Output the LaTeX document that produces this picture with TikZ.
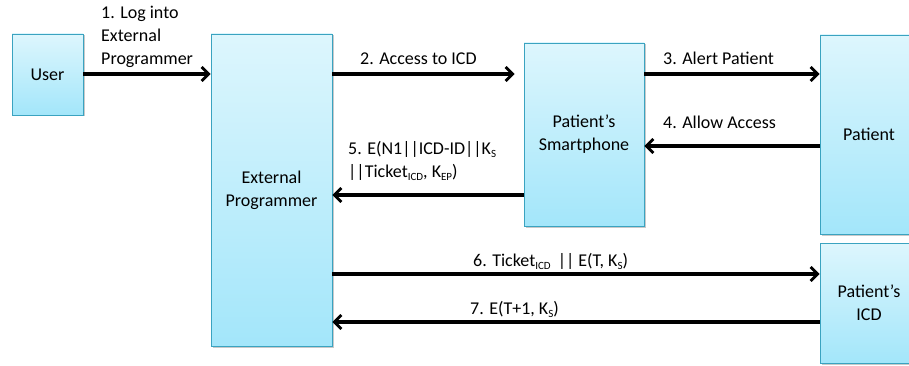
\documentclass[tikz,border=0pt]{standalone}
\usepackage{fontspec}
\setmainfont{Carlito}
\usetikzlibrary{arrows.meta,shadows,calc}
\definecolor{boxtop}{HTML}{DDF6FD}
\definecolor{boxbot}{HTML}{A3E6FA}
\definecolor{boxline}{HTML}{3AA3C0}
\newcommand{\sbs}[1]{\raisebox{-0.35ex}{\fontsize{11}{11}\selectfont #1}}
\begin{document}
\begin{tikzpicture}[x=1pt,y=-1pt,
  every node/.style={font=\fontsize{18}{23}\selectfont, inner sep=0pt},
  blk/.style={draw=boxline, line width=0.9pt, top color=boxtop, bottom color=boxbot,
    align=center, drop shadow={shadow xshift=1.5pt, shadow yshift=-1.5pt, opacity=0.35, fill=black!60}},
  arr/.style={line width=3.2pt, -{Straight Barb[length=7pt,width=14pt,line width=2.8pt]}},
  lab/.style={anchor=base west},
]
\useasboundingbox (0,0) rectangle (909,366);
\clip (0,0) rectangle (909,366);
\fill[white] (0,0) rectangle (909,366);

\node[blk, minimum width=71pt, minimum height=81pt] (user) at (47.5,74.5) {User};
\node[blk, minimum width=121pt, minimum height=312pt] (ep) at (271.5,190) {External\\Programmer};
\node[blk, minimum width=120pt, minimum height=183pt] (sp) at (584,134.5) {Patient’s\\Smartphone};
\node[blk, minimum width=98pt, minimum height=199pt] (pt) at (869,134.5) {Patient};
\node[blk, minimum width=98pt, minimum height=120pt] (icd) at (869,303) {Patient’s\\ICD};

\coordinate (r74) at (0,74);
\coordinate (r146) at (0,146);
\coordinate (r195) at (0,195);
\coordinate (r274) at (0,274);
\coordinate (r322) at (0,322);

\draw[arr] (user.east |- r74) -- (ep.west |- r74);
\node[anchor=north west, align=left] (l1) at (101,6) {1. Log into\\External\\Programmer};

\draw[arr, shorten >=9pt] (ep.east |- r74) -- (sp.west |- r74);
\node[lab] (l2) at (360,65) {2. Access to ICD};

\draw[arr] (sp.east |- r74) -- (pt.west |- r74);
\node[lab] (l3) at (663,65) {3. Alert Patient};

\draw[arr] (pt.west |- r146) -- (sp.east |- r146);
\node[lab] (l4) at (663,129) {4. Allow Access};

\draw[arr] (sp.west |- r195) -- (ep.east |- r195);
\node[anchor=north west, align=left] (l5) at (348,141) {5. E(N1||ICD-ID||K\sbs{S}\\||Ticket\sbs{ICD}, K\sbs{EP})};

\draw[arr] (ep.east |- r274) -- (icd.west |- r274);
\node[lab] (l6) at (473,266) {6. Ticket\sbs{ICD} \,|| E(T, K\sbs{S})};

\draw[arr] (icd.west |- r322) -- (ep.east |- r322);
\node[lab] (l7) at (470,314) {7. E(T+1, K\sbs{S})};
\end{tikzpicture}
\end{document}
